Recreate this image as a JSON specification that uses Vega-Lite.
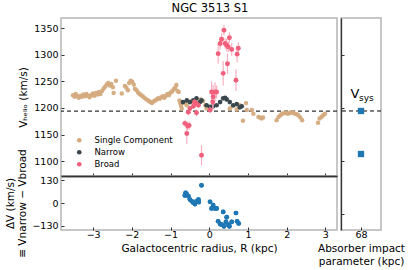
{
  "$schema": "https://vega.github.io/schema/vega-lite/v6.json",
  "padding": {"left": 4, "top": 2, "right": 0, "bottom": 0},
  "config": {
    "font": "DejaVu Sans",
    "view": {"stroke": "#b5b5b5", "strokeWidth": 1.5},
    "axis": {
      "labelFont": "DejaVu Sans", "labelFontSize": 9.5, "labelColor": "black", "labelOverlap": false, "labelFlush": false,
      "titleFont": "DejaVu Sans", "titleFontSize": 10.5, "titleFontWeight": "normal", "titleColor": "black",
      "tickColor": "#333", "tickSize": -3, "labelPadding": 6, "grid": false, "domain": false, "minExtent": 0
    },
    "legend": {"labelFont": "DejaVu Sans"}
  },
  "title": {"text": "NGC 3513 S1", "fontSize": 11.5, "fontWeight": "normal", "font": "DejaVu Sans", "anchor": "middle", "offset": 3, "dx": 5, "color": "black"},
  "datasets": {
    "tan": [
      {"R": -3.52, "V": 1224, "comp": "Single Component"},
      {"R": -3.48, "V": 1221, "comp": "Single Component"},
      {"R": -3.45, "V": 1226, "comp": "Single Component"},
      {"R": -3.41, "V": 1222, "comp": "Single Component"},
      {"R": -3.37, "V": 1219, "comp": "Single Component"},
      {"R": -3.33, "V": 1223, "comp": "Single Component"},
      {"R": -3.29, "V": 1221, "comp": "Single Component"},
      {"R": -3.25, "V": 1225, "comp": "Single Component"},
      {"R": -3.21, "V": 1222, "comp": "Single Component"},
      {"R": -3.17, "V": 1226, "comp": "Single Component"},
      {"R": -3.13, "V": 1223, "comp": "Single Component"},
      {"R": -3.09, "V": 1220, "comp": "Single Component"},
      {"R": -3.05, "V": 1224, "comp": "Single Component"},
      {"R": -3.01, "V": 1227, "comp": "Single Component"},
      {"R": -2.97, "V": 1223, "comp": "Single Component"},
      {"R": -2.93, "V": 1228, "comp": "Single Component"},
      {"R": -2.89, "V": 1225, "comp": "Single Component"},
      {"R": -2.85, "V": 1230, "comp": "Single Component"},
      {"R": -2.81, "V": 1226, "comp": "Single Component"},
      {"R": -2.77, "V": 1232, "comp": "Single Component"},
      {"R": -2.73, "V": 1236, "comp": "Single Component"},
      {"R": -2.69, "V": 1240, "comp": "Single Component"},
      {"R": -2.65, "V": 1244, "comp": "Single Component"},
      {"R": -2.61, "V": 1247, "comp": "Single Component"},
      {"R": -2.57, "V": 1242, "comp": "Single Component"},
      {"R": -2.53, "V": 1245, "comp": "Single Component"},
      {"R": -2.49, "V": 1239, "comp": "Single Component"},
      {"R": -2.47, "V": 1228, "comp": "Single Component"},
      {"R": -2.41, "V": 1251, "comp": "Single Component"},
      {"R": -2.26, "V": 1227, "comp": "Single Component"},
      {"R": -2.18, "V": 1241, "comp": "Single Component"},
      {"R": -2.14, "V": 1238, "comp": "Single Component"},
      {"R": -2.10, "V": 1233, "comp": "Single Component"},
      {"R": -2.07, "V": 1247, "comp": "Single Component"},
      {"R": -2.03, "V": 1251, "comp": "Single Component"},
      {"R": -1.99, "V": 1249, "comp": "Single Component"},
      {"R": -1.95, "V": 1244, "comp": "Single Component"},
      {"R": -1.92, "V": 1236, "comp": "Single Component"},
      {"R": -1.88, "V": 1233, "comp": "Single Component"},
      {"R": -1.84, "V": 1229, "comp": "Single Component"},
      {"R": -1.80, "V": 1226, "comp": "Single Component"},
      {"R": -1.76, "V": 1224, "comp": "Single Component"},
      {"R": -1.72, "V": 1222, "comp": "Single Component"},
      {"R": -1.68, "V": 1219, "comp": "Single Component"},
      {"R": -1.64, "V": 1217, "comp": "Single Component"},
      {"R": -1.60, "V": 1215, "comp": "Single Component"},
      {"R": -1.56, "V": 1213, "comp": "Single Component"},
      {"R": -1.52, "V": 1211, "comp": "Single Component"},
      {"R": -1.48, "V": 1209, "comp": "Single Component"},
      {"R": -1.44, "V": 1212, "comp": "Single Component"},
      {"R": -1.40, "V": 1214, "comp": "Single Component"},
      {"R": -1.36, "V": 1216, "comp": "Single Component"},
      {"R": -1.32, "V": 1218, "comp": "Single Component"},
      {"R": -1.28, "V": 1217, "comp": "Single Component"},
      {"R": -1.24, "V": 1220, "comp": "Single Component"},
      {"R": -1.20, "V": 1222, "comp": "Single Component"},
      {"R": -1.16, "V": 1219, "comp": "Single Component"},
      {"R": -1.12, "V": 1223, "comp": "Single Component"},
      {"R": -1.08, "V": 1226, "comp": "Single Component"},
      {"R": -1.04, "V": 1224, "comp": "Single Component"},
      {"R": -1.00, "V": 1229, "comp": "Single Component"},
      {"R": -0.96, "V": 1231, "comp": "Single Component"},
      {"R": -0.92, "V": 1235, "comp": "Single Component"},
      {"R": -0.88, "V": 1238, "comp": "Single Component"},
      {"R": -0.85, "V": 1243, "comp": "Single Component"},
      {"R": -0.82, "V": 1232, "comp": "Single Component"},
      {"R": -0.79, "V": 1230, "comp": "Single Component"},
      {"R": -0.77, "V": 1214, "comp": "Single Component"},
      {"R": -0.75, "V": 1209, "comp": "Single Component"},
      {"R": -0.73, "V": 1204, "comp": "Single Component"},
      {"R": -0.71, "V": 1199, "comp": "Single Component"},
      {"R": -0.68, "V": 1211, "comp": "Single Component"},
      {"R": -0.63, "V": 1209, "comp": "Single Component"},
      {"R": -0.58, "V": 1205, "comp": "Single Component"},
      {"R": -0.50, "V": 1211, "comp": "Single Component"},
      {"R": -0.45, "V": 1213, "comp": "Single Component"},
      {"R": -0.40, "V": 1208, "comp": "Single Component"},
      {"R": -0.35, "V": 1212, "comp": "Single Component"},
      {"R": -0.22, "V": 1216, "comp": "Single Component"},
      {"R": -0.16, "V": 1213, "comp": "Single Component"},
      {"R": -0.10, "V": 1205, "comp": "Single Component"},
      {"R": -0.07, "V": 1199, "comp": "Single Component"},
      {"R": -0.03, "V": 1202, "comp": "Single Component"},
      {"R": 0.03, "V": 1197, "comp": "Single Component"},
      {"R": 0.53, "V": 1199, "comp": "Single Component"},
      {"R": 0.61, "V": 1203, "comp": "Single Component"},
      {"R": 0.71, "V": 1197, "comp": "Single Component"},
      {"R": 0.79, "V": 1205, "comp": "Single Component"},
      {"R": 0.87, "V": 1176, "comp": "Single Component"},
      {"R": 0.95, "V": 1209, "comp": "Single Component"},
      {"R": 0.97, "V": 1196, "comp": "Single Component"},
      {"R": 1.10, "V": 1196, "comp": "Single Component"},
      {"R": 1.14, "V": 1189, "comp": "Single Component"},
      {"R": 1.27, "V": 1183, "comp": "Single Component"},
      {"R": 1.31, "V": 1182, "comp": "Single Component"},
      {"R": 1.35, "V": 1180, "comp": "Single Component"},
      {"R": 1.39, "V": 1182, "comp": "Single Component"},
      {"R": 1.74, "V": 1177, "comp": "Single Component"},
      {"R": 1.79, "V": 1183, "comp": "Single Component"},
      {"R": 1.84, "V": 1186, "comp": "Single Component"},
      {"R": 1.88, "V": 1189, "comp": "Single Component"},
      {"R": 1.93, "V": 1190, "comp": "Single Component"},
      {"R": 1.98, "V": 1191, "comp": "Single Component"},
      {"R": 2.02, "V": 1189, "comp": "Single Component"},
      {"R": 2.07, "V": 1190, "comp": "Single Component"},
      {"R": 2.11, "V": 1192, "comp": "Single Component"},
      {"R": 2.16, "V": 1191, "comp": "Single Component"},
      {"R": 2.21, "V": 1189, "comp": "Single Component"},
      {"R": 2.26, "V": 1188, "comp": "Single Component"},
      {"R": 2.30, "V": 1186, "comp": "Single Component"},
      {"R": 2.35, "V": 1182, "comp": "Single Component"},
      {"R": 2.40, "V": 1177, "comp": "Single Component"},
      {"R": 2.81, "V": 1172, "comp": "Single Component"},
      {"R": 2.85, "V": 1180, "comp": "Single Component"},
      {"R": 2.90, "V": 1183, "comp": "Single Component"},
      {"R": 2.94, "V": 1186, "comp": "Single Component"},
      {"R": 2.99, "V": 1189, "comp": "Single Component"}
    ],
    "narrow": [
      {"R": -0.68, "V": 1211, "comp": "Narrow"},
      {"R": -0.58, "V": 1214, "comp": "Narrow"},
      {"R": -0.50, "V": 1211, "comp": "Narrow"},
      {"R": -0.41, "V": 1214, "comp": "Narrow"},
      {"R": -0.33, "V": 1218, "comp": "Narrow"},
      {"R": -0.24, "V": 1211, "comp": "Narrow"},
      {"R": -0.20, "V": 1214, "comp": "Narrow"},
      {"R": -0.07, "V": 1205, "comp": "Narrow"},
      {"R": 0.02, "V": 1202, "comp": "Narrow"},
      {"R": 0.10, "V": 1203, "comp": "Narrow"},
      {"R": 0.19, "V": 1205, "comp": "Narrow"},
      {"R": 0.28, "V": 1211, "comp": "Narrow"},
      {"R": 0.36, "V": 1218, "comp": "Narrow"},
      {"R": 0.41, "V": 1219, "comp": "Narrow"},
      {"R": 0.45, "V": 1216, "comp": "Narrow"},
      {"R": 0.53, "V": 1211, "comp": "Narrow"},
      {"R": 0.62, "V": 1205, "comp": "Narrow"},
      {"R": 0.71, "V": 1207, "comp": "Narrow"},
      {"R": 0.79, "V": 1201, "comp": "Narrow"},
      {"R": 0.84, "V": 1203, "comp": "Narrow"}
    ],
    "broad": [
      {"R": -0.63, "V": 1171, "lo": 1165, "hi": 1177, "comp": "Broad"},
      {"R": -0.58, "V": 1152, "lo": 1132, "hi": 1172, "comp": "Broad"},
      {"R": -0.56, "V": 1166, "lo": 1158, "hi": 1174, "comp": "Broad"},
      {"R": -0.52, "V": 1167, "lo": 1159, "hi": 1175, "comp": "Broad"},
      {"R": -0.54, "V": 1192, "lo": 1186, "hi": 1198, "comp": "Broad"},
      {"R": -0.50, "V": 1199, "lo": 1194, "hi": 1204, "comp": "Broad"},
      {"R": -0.41, "V": 1203, "lo": 1198, "hi": 1208, "comp": "Broad"},
      {"R": -0.38, "V": 1211, "lo": 1206, "hi": 1216, "comp": "Broad"},
      {"R": -0.34, "V": 1208, "lo": 1203, "hi": 1213, "comp": "Broad"},
      {"R": -0.28, "V": 1205, "lo": 1200, "hi": 1210, "comp": "Broad"},
      {"R": -0.33, "V": 1191, "lo": 1185, "hi": 1197, "comp": "Broad"},
      {"R": -0.20, "V": 1111, "lo": 1092, "hi": 1130, "comp": "Broad"},
      {"R": 0.02, "V": 1196, "lo": 1190, "hi": 1202, "comp": "Broad"},
      {"R": 0.06, "V": 1230, "lo": 1210, "hi": 1250, "comp": "Broad"},
      {"R": 0.09, "V": 1211, "lo": 1196, "hi": 1226, "comp": "Broad"},
      {"R": 0.10, "V": 1221, "lo": 1199, "hi": 1243, "comp": "Broad"},
      {"R": 0.15, "V": 1230, "lo": 1212, "hi": 1248, "comp": "Broad"},
      {"R": 0.19, "V": 1230, "lo": 1218, "hi": 1242, "comp": "Broad"},
      {"R": 0.23, "V": 1302, "lo": 1283, "hi": 1321, "comp": "Broad"},
      {"R": 0.28, "V": 1321, "lo": 1309, "hi": 1333, "comp": "Broad"},
      {"R": 0.32, "V": 1329, "lo": 1317, "hi": 1341, "comp": "Broad"},
      {"R": 0.36, "V": 1265, "lo": 1242, "hi": 1288, "comp": "Broad"},
      {"R": 0.38, "V": 1346, "lo": 1336, "hi": 1356, "comp": "Broad"},
      {"R": 0.41, "V": 1321, "lo": 1311, "hi": 1331, "comp": "Broad"},
      {"R": 0.45, "V": 1318, "lo": 1306, "hi": 1330, "comp": "Broad"},
      {"R": 0.47, "V": 1283, "lo": 1264, "hi": 1302, "comp": "Broad"},
      {"R": 0.49, "V": 1315, "lo": 1305, "hi": 1325, "comp": "Broad"},
      {"R": 0.52, "V": 1332, "lo": 1322, "hi": 1342, "comp": "Broad"},
      {"R": 0.58, "V": 1310, "lo": 1298, "hi": 1322, "comp": "Broad"},
      {"R": 0.69, "V": 1252, "lo": 1232, "hi": 1272, "comp": "Broad"},
      {"R": 0.72, "V": 1301, "lo": 1286, "hi": 1316, "comp": "Broad"},
      {"R": 0.75, "V": 1312, "lo": 1300, "hi": 1324, "comp": "Broad"}
    ],
    "dv": [
      {"R": -0.63, "dV": 44}, {"R": -0.61, "dV": 59}, {"R": -0.58, "dV": 50},
      {"R": -0.54, "dV": 40}, {"R": -0.50, "dV": 21}, {"R": -0.45, "dV": 11},
      {"R": -0.41, "dV": 2}, {"R": -0.37, "dV": -5}, {"R": -0.33, "dV": 11},
      {"R": -0.28, "dV": 21}, {"R": -0.27, "dV": 6}, {"R": -0.20, "dV": 102},
      {"R": 0.02, "dV": 8}, {"R": 0.10, "dV": -11}, {"R": 0.06, "dV": -30},
      {"R": 0.15, "dV": -30}, {"R": 0.19, "dV": -30}, {"R": 0.36, "dV": -50},
      {"R": 0.45, "dV": -80}, {"R": 0.23, "dV": -103}, {"R": 0.28, "dV": -119},
      {"R": 0.32, "dV": -122}, {"R": 0.38, "dV": -132}, {"R": 0.43, "dV": -107},
      {"R": 0.49, "dV": -122}, {"R": 0.52, "dV": -132}, {"R": 0.58, "dV": -107},
      {"R": 0.69, "dV": -56}, {"R": 0.72, "dV": -103}, {"R": 0.76, "dV": -116}
    ],
    "abs": [{"imp": 68, "V": 1194}, {"imp": 68, "V": 1113}],
    "vsys": [{"imp": 68, "V": 1194}]
  },
  "hconcat": [
    {
      "bounds": "flush",
      "vconcat": [
        {
          "width": 276, "height": 158,
          "layer": [
            {
              "data": {"name": "vsys"},
              "mark": {"type": "rule", "strokeDash": [4, 3], "color": "black", "strokeWidth": 1},
              "encoding": {
                "y": {"field": "V", "type": "quantitative", "scale": {"domain": [1072, 1369], "nice": false, "zero": false},
                      "title": "Vₕₑₗᵢₒ (km/s)", "axis": {"values": [1100, 1150, 1200, 1250, 1300, 1350], "format": "d", "labelOverlap": false, "titlePadding": 5}}
              }
            },
            {
              "data": {"name": "tan"},
              "mark": {"type": "circle", "size": 20, "opacity": 0.95},
              "encoding": {
                "x": {"field": "R", "type": "quantitative", "scale": {"domain": [-3.83, 3.3], "nice": false, "zero": false},
                      "axis": {"values": [-3, -2, -1, 0, 1, 2, 3], "labels": false, "title": null, "domain": true, "domainColor": "#333", "domainWidth": 1.3, "minExtent": 0, "maxExtent": 0}},
                "y": {"field": "V", "type": "quantitative", "title": "Vₕₑₗᵢₒ (km/s)", "axis": {"values": [1100, 1150, 1200, 1250, 1300, 1350], "format": "d", "labelOverlap": false, "titlePadding": 5}},
                "color": {"field": "comp", "type": "nominal",
                          "scale": {"domain": ["Single Component", "Narrow", "Broad"], "range": ["#d4aa7d", "#3a474d", "#f0607c"]},
                          "legend": {"title": null, "orient": "none", "legendX": 14, "legendY": 118, "symbolType": "circle", "symbolSize": 22, "labelFontSize": 8.5, "labelOffset": 11, "rowPadding": 3, "symbolStrokeWidth": 0, "symbolOpacity": 1}}
              }
            },
            {
              "data": {"name": "narrow"},
              "mark": {"type": "circle", "size": 22, "opacity": 1},
              "encoding": {
                "x": {"field": "R", "type": "quantitative"},
                "y": {"field": "V", "type": "quantitative", "title": "Vₕₑₗᵢₒ (km/s)", "axis": {"values": [1100, 1150, 1200, 1250, 1300, 1350], "format": "d", "labelOverlap": false, "titlePadding": 5}},
                "color": {"field": "comp", "type": "nominal"}
              }
            },
            {
              "data": {"name": "broad"},
              "mark": {"type": "rule", "strokeWidth": 1.2, "color": "#f5a3b5", "opacity": 0.85},
              "encoding": {
                "x": {"field": "R", "type": "quantitative"},
                "y": {"field": "lo", "type": "quantitative", "title": "Vₕₑₗᵢₒ (km/s)", "axis": {"values": [1100, 1150, 1200, 1250, 1300, 1350], "format": "d", "labelOverlap": false, "titlePadding": 5}},
                "y2": {"field": "hi"}
              }
            },
            {
              "data": {"name": "broad"},
              "mark": {"type": "circle", "size": 24, "opacity": 1},
              "encoding": {
                "x": {"field": "R", "type": "quantitative"},
                "y": {"field": "V", "type": "quantitative", "title": "Vₕₑₗᵢₒ (km/s)", "axis": {"values": [1100, 1150, 1200, 1250, 1300, 1350], "format": "d", "labelOverlap": false, "titlePadding": 5}},
                "color": {"field": "comp", "type": "nominal"}
              }
            }
          ]
        },
        {
          "width": 276, "height": 54,
          "data": {"name": "dv"},
          "layer": [
            {
              "mark": {"type": "circle", "size": 22, "opacity": 1, "color": "#1f77b4"},
              "encoding": {
                "x": {"field": "R", "type": "quantitative", "scale": {"domain": [-3.83, 3.3], "nice": false, "zero": false},
                      "title": "Galactocentric radius, R (kpc)", "axis": {"values": [-3, -2, -1, 0, 1, 2, 3], "labelPadding": 2, "titlePadding": 5}},
                "y": {"field": "dV", "type": "quantitative", "scale": {"domain": [-153, 155], "nice": false, "zero": false},
                      "title": ["ΔV (km/s)", "≡ Vnarrow − Vbroad"], "axis": {"values": [-130, 0, 130], "labelOverlap": false, "titlePadding": 4}}
              }
            },
            {
              "mark": {"type": "circle", "size": 22, "opacity": 1, "color": "#1f77b4"},
              "encoding": {
                "x": {"field": "R", "type": "quantitative",
                      "axis": {"orient": "top", "labels": false, "ticks": false, "title": null, "domain": true, "domainColor": "#333", "domainWidth": 1.3, "minExtent": 0, "maxExtent": 0}},
                "y": {"field": "dV", "type": "quantitative", "title": ["ΔV (km/s)", "≡ Vnarrow − Vbroad"], "axis": {"values": [-130, 0, 130], "labelOverlap": false, "titlePadding": 4}}
              }
            }
          ],
          "resolve": {"axis": {"x": "independent"}}
        }
      ],
      "spacing": 0,
      "resolve": {"scale": {"y": "independent", "color": "independent"}, "legend": {"color": "independent"}}
    },
    {
      "width": 40, "height": 212,
      "layer": [
        {
          "data": {"name": "vsys"},
          "mark": {"type": "rule", "strokeDash": [4, 3], "color": "black", "strokeWidth": 1},
          "encoding": {
            "y": {"field": "V", "type": "quantitative", "scale": {"domain": [970, 1369], "nice": false, "zero": false},
                  "axis": {"values": [1000, 1050, 1100, 1150, 1200, 1250, 1300, 1350], "labels": false, "title": null, "domain": true, "domainColor": "#333", "domainWidth": 1.3, "minExtent": 0, "maxExtent": 0}}
          }
        },
        {
          "data": {"name": "abs"},
          "mark": {"type": "square", "size": 40, "opacity": 1, "color": "#1f77b4"},
          "encoding": {
            "x": {"field": "imp", "type": "quantitative", "scale": {"domain": [67, 69], "nice": false, "zero": false},
                  "title": ["Absorber impact", "parameter (kpc)"], "axis": {"values": [68], "labelPadding": 2, "titlePadding": 5, "titleLineHeight": 12.5}},
            "y": {"field": "V", "type": "quantitative", "axis": {"values": [1000, 1050, 1100, 1150, 1200, 1250, 1300, 1350], "labels": false, "title": null, "domain": true, "domainColor": "#333", "domainWidth": 1.3, "minExtent": 0, "maxExtent": 0}}
          }
        },
        {
          "data": {"name": "vsys"},
          "mark": {"type": "text", "text": "V", "fontSize": 13, "dx": -6, "dy": -17, "color": "black", "font": "DejaVu Sans"},
          "encoding": {
            "x": {"field": "imp", "type": "quantitative"},
            "y": {"field": "V", "type": "quantitative"}
          }
        },
        {
          "data": {"name": "vsys"},
          "mark": {"type": "text", "text": "sys", "fontSize": 9, "align": "left", "dx": -2, "dy": -13, "color": "black", "font": "DejaVu Sans"},
          "encoding": {
            "x": {"field": "imp", "type": "quantitative"},
            "y": {"field": "V", "type": "quantitative"}
          }
        }
      ]
    }
  ],
  "spacing": -23,
  "resolve": {"scale": {"x": "independent", "y": "independent", "color": "independent"}, "legend": {"color": "independent"}, "axis": {"x": "independent", "y": "independent"}}
}
